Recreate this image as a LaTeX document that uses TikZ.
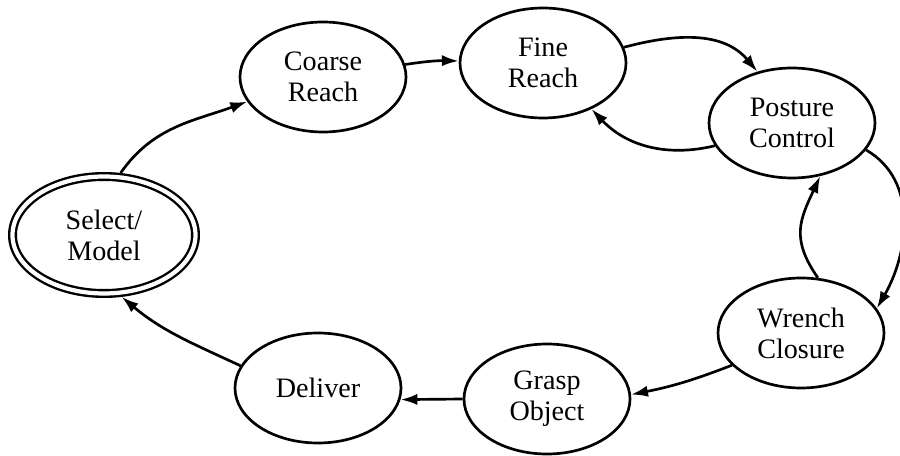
\documentclass[tikz,border=0pt]{standalone}
\usepackage{fontspec}
\setmainfont{Liberation Serif}
\usetikzlibrary{shapes.geometric,arrows.meta}

\begin{document}
\begin{tikzpicture}[x=1cm, y=1cm,
	phase/.style={ellipse, draw, line width=1.9pt, minimum width=4.15cm, minimum height=2.75cm, align=center, font=\fontsize{20}{22}\selectfont},
	flow/.style={-{Latex[length=12pt,width=8pt]}, line width=1.9pt}]
	\useasboundingbox (0,0) rectangle (22.5,11.375);
	% states
	\node[phase, double, line width=1.7pt, double distance=3pt, outer sep=3.2pt, minimum width=4.575cm, minimum height=2.925cm] (select) at (2.6,5.5) {Select/\\Model};
	\node[phase] (coarse) at (8.075,9.45) {Coarse\\Reach};
	\node[phase] (fine) at (13.575,9.8) {Fine\\Reach};
	\node[phase] (posture) at (19.8,8.3) {Posture\\Control};
	\node[phase] (wrench) at (20.025,3.05) {Wrench\\Closure};
	\node[phase] (grasp) at (13.675,1.4) {Grasp\\Object};
	\node[phase] (deliver) at (7.95,1.675) {Deliver};
	% transitions
	\draw[flow] (select.75) to[out=55, in=200] (coarse.198);
	\draw[flow] (coarse) to[bend left=5] (fine);
	\draw[flow] (fine.11) to[out=15, in=130] (posture.124);
	\draw[flow] (posture) to[bend left=30] (fine);
	\draw[flow] (posture.-20) to[out=-30, in=60] (wrench.18);
	\draw[flow] (wrench.73) to[out=125, in=245, looseness=1.2] (posture.-62);
	\draw[flow] (wrench.205) to[bend left=5] (grasp.3);
	\draw[flow] (grasp.west) -- (deliver.-8);
	\draw[flow] (deliver.164) to[out=155, in=-40] (select.-74);
\end{tikzpicture}
\end{document}
